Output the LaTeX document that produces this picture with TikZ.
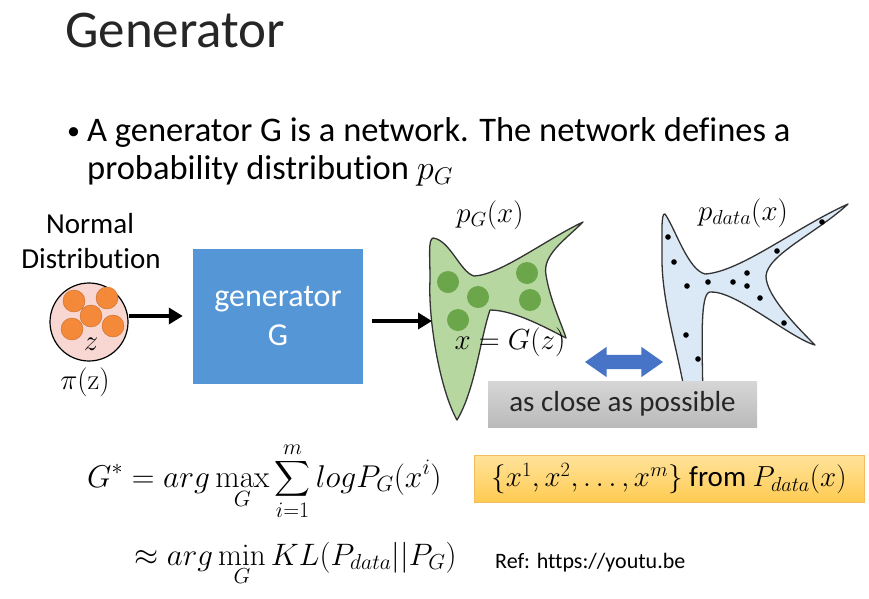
\documentclass[tikz,border=0pt]{standalone}
\usepackage{fix-cm}
\usepackage{amsmath}
\usepackage[no-math]{fontspec}
\setmainfont{Carlito}[Ligatures=NoCommon]
\usetikzlibrary{arrows.meta,positioning,shapes.arrows}

\definecolor{genblue}{HTML}{5596D6}
\definecolor{ballpink}{HTML}{F8D7D2}
\definecolor{ballorange}{HTML}{F5893A}
\definecolor{pgreen}{HTML}{B7D7A1}
\definecolor{pgreendot}{HTML}{6CA64A}
\definecolor{pdatablue}{HTML}{DBE8F5}
\definecolor{arrowblue}{HTML}{4774C6}
\definecolor{notetop}{HTML}{FFE39B}
\definecolor{notebot}{HTML}{FFCB52}
\definecolor{noteedge}{HTML}{F5BD5E}

\begin{document}
\begin{tikzpicture}[x=1pt,y=-1pt,on grid,
    >={Triangle[length=14pt,width=16pt]},
    txt/.style={anchor=base west,inner sep=0pt},
    body/.style={font=\fontsize{29}{35}\selectfont},
    bigmath/.style={font=\fontsize{31.5}{37}\selectfont},
    ball/.style={circle,draw,line width=1.2pt,fill=ballpink,minimum size=78pt,inner sep=0pt},
    genbox/.style={rectangle,fill=genblue,minimum width=170pt,minimum height=135pt,
        text=white,align=center,font=\fontsize{32}{39}\selectfont},
    blob/.style={draw=black!80,line width=1.3pt,line join=round},
    closebox/.style={rectangle,top color=black!16,bottom color=black!27,minimum width=269pt,
        minimum height=46pt,text=black!85,body},
    note/.style={rectangle,top color=notetop,bottom color=notebot,draw=noteedge,
        minimum width=390pt,minimum height=47pt,body}]
    \fill[white] (0,0) rectangle (869,598);
    \useasboundingbox (0,0) rectangle (869,598);

    \node[txt,font=\fontsize{53}{60}\selectfont,text=black!85] (title) at (65,47) {Generator};
    \node[txt,font=\fontsize{26}{30}\selectfont] (bullet) at (67,139) {\textbullet};
    \node[txt,font=\fontsize{34.5}{40}\selectfont] (line_1) at (87,141) {A generator G is a network. The network defines a};
    \node[txt,font=\fontsize{34.5}{40}\selectfont] (line_2) at (87,179) {probability distribution $p_G$};

    \node[anchor=base,inner sep=0pt,body] (normal_lbl) at (90,233) {Normal};
    \node[anchor=base,inner sep=0pt,body] (distrib_lbl) at (91,268) {Distribution};
    \node[ball] (z_ball) at (89,322) {};
    \fill[ballorange,draw=ballorange!80!black] (74,301) circle[radius=11pt] (107,298) circle[radius=11pt]
        (91,316) circle[radius=11pt] (72,329) circle[radius=11pt] (113,326) circle[radius=11pt];
    \node[body] (z_lbl) at (91,344) {$z$};
    \node[body] (pi_lbl) at (85,382) {$\pi(\mathrm{z})$};

    \node[genbox] (gen_box) [right=189pt of z_ball,yshift=6pt] {generator\\G};
    \coordinate (g_in) at (432,321);

    \draw[blob,fill=pgreen] (433,238) .. controls (450,240) and (460,272) .. (474,276)
        .. controls (500,275) and (545,240) .. (583,222)
        .. controls (565,240) and (542,255) .. (546,275)
        .. controls (550,300) and (562,325) .. (566,338)
        .. controls (550,330) and (515,310) .. (490,310)
        .. controls (480,340) and (475,390) .. (457,420)
        .. controls (440,390) and (428,320) .. (430,280)
        .. controls (430,255) and (428,240) .. (433,238) -- cycle;
    \fill[pgreendot] (448,282) circle[radius=11pt] (478,297) circle[radius=11pt] (527,273) circle[radius=11pt]
        (530,300) circle[radius=11pt] (458,320) circle[radius=11pt];
    \node[body] (pg_lbl) at (490,215) {$p_G(x)$};
    \node[body] (xgz_lbl) at (510,342) {$x=G(z)$};

    \draw[blob,fill=pdatablue] (665,214) .. controls (675,228) and (688,270) .. (705,274)
        .. controls (740,272) and (795,228) .. (848,204)
        .. controls (818,232) and (767,255) .. (766,276)
        .. controls (766,295) and (795,325) .. (815,345)
        .. controls (790,338) and (735,290) .. (710,292)
        .. controls (700,293) and (702,340) .. (703,400)
        -- (686,400)
        .. controls (678,350) and (661,300) .. (662,255)
        .. controls (662,235) and (661,212) .. (665,214) -- cycle;
    \fill (668,237) circle[radius=2.8pt] (674,262) circle[radius=2.8pt] (687,286) circle[radius=2.8pt]
        (708,282) circle[radius=2.8pt] (733,282) circle[radius=2.8pt] (747,273) circle[radius=2.8pt]
        (747,286) circle[radius=2.8pt] (760,298) circle[radius=2.8pt] (777,251) circle[radius=2.8pt]
        (822,222) circle[radius=2.8pt] (784,323) circle[radius=2.8pt] (686,335) circle[radius=2.8pt]
        (698,359) circle[radius=2.8pt];
    \node[body] (pdata_lbl) at (743,213) {$p_{data}(x)$};

    \node[double arrow,fill=arrowblue,minimum height=78pt,minimum width=30pt,inner sep=7pt,
        double arrow head extend=8pt,double arrow tip angle=70] (close_arrow) at (624,362) {};
    \node[closebox] (close_box) at (622.5,404) {as close as possible};

    \path[->,line width=4.5pt]
        (z_ball.east |- gen_box) edge[shorten >=10pt] (gen_box.west)
        (gen_box.east |- g_in) edge[shorten <=9pt] (g_in);

    \node[txt,bigmath] (g_star) at (87,487) {$\displaystyle G^*=arg\max_G\sum_{i=1}^m logP_G(x^i)$};
    \node[txt,font=\fontsize{31}{37}\selectfont] (kl_line) at (134,565) {$\displaystyle \approx arg\min_G KL(P_{data}||P_G)$};
    \node[note] (samples) at (669,478.5) {$\{x^1,x^2,\ldots,x^m\}$ from $P_{data}(x)$};
    \node[txt,font=\fontsize{22}{26}\selectfont] (ref) at (495,568) {Ref: https://youtu.be};
\end{tikzpicture}
\end{document}
